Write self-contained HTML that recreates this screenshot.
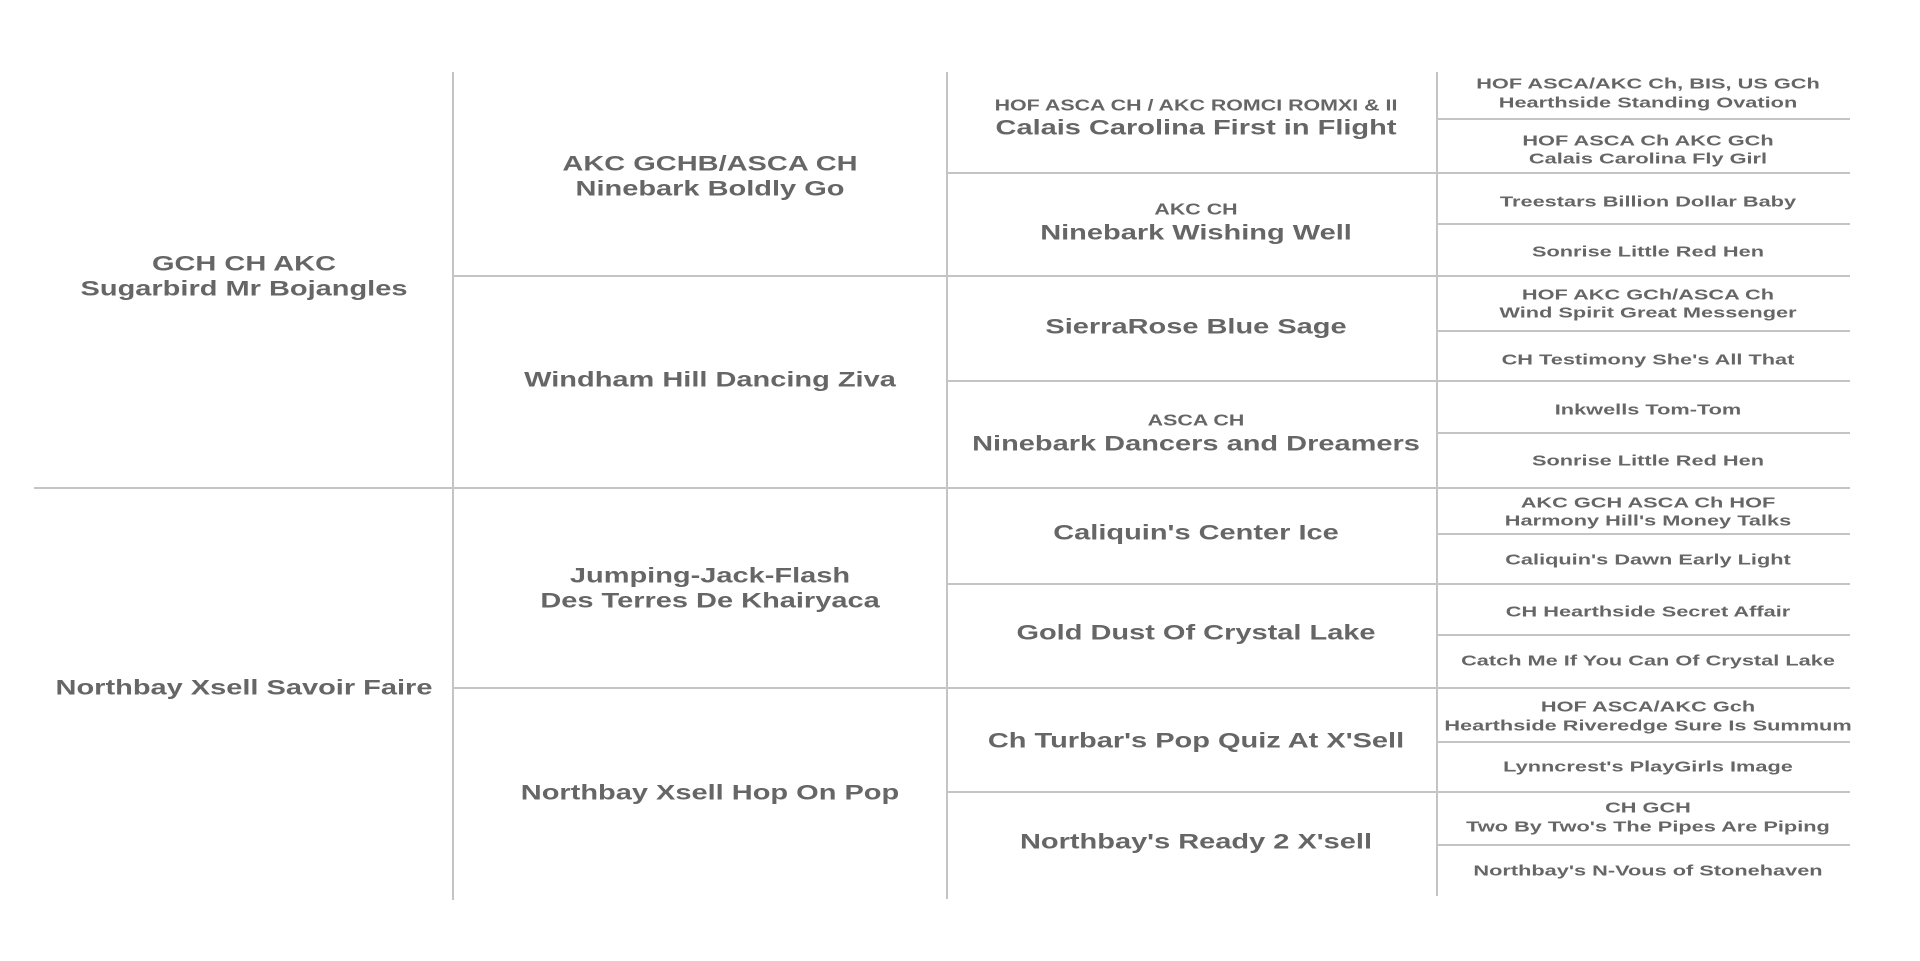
<!DOCTYPE html>
<html><head><meta charset="utf-8"><style>
body{margin:0;width:1920px;height:961px;background:#fff;position:relative;overflow:hidden;font-family:"Liberation Sans",Arial,sans-serif;font-weight:bold;color:#666}
.h{position:absolute;height:2px;background:#c4c4c4}
.v{position:absolute;width:2px;background:#c4c4c4}
.t{position:absolute;white-space:nowrap;transform:translate(-50%,-50%) scaleX(1.38);line-height:1}
.b{font-size:21px}
.s{font-size:15.5px}
.m{font-size:15px;transform:translate(-50%,-50%) scaleX(1.45)}
</style></head><body>
<div class="v" style="left:452px;top:72px;height:828px"></div>
<div class="v" style="left:946px;top:72px;height:827px"></div>
<div class="v" style="left:1436px;top:72px;height:824px"></div>
<div class="h" style="left:34px;top:487px;width:1816px"></div>
<div class="h" style="left:453px;top:275px;width:1397px"></div>
<div class="h" style="left:453px;top:687px;width:1397px"></div>
<div class="h" style="left:947px;top:172px;width:903px"></div>
<div class="h" style="left:947px;top:380px;width:903px"></div>
<div class="h" style="left:947px;top:583px;width:903px"></div>
<div class="h" style="left:947px;top:791px;width:903px"></div>
<div class="h" style="left:1437px;top:118px;width:413px"></div>
<div class="h" style="left:1437px;top:223px;width:413px"></div>
<div class="h" style="left:1437px;top:330px;width:413px"></div>
<div class="h" style="left:1437px;top:432px;width:413px"></div>
<div class="h" style="left:1437px;top:533px;width:413px"></div>
<div class="h" style="left:1437px;top:634px;width:413px"></div>
<div class="h" style="left:1437px;top:741px;width:413px"></div>
<div class="h" style="left:1437px;top:844px;width:413px"></div>

<div class="t b" style="left:244px;top:264px">GCH CH AKC</div>
<div class="t b" style="left:244px;top:289px">Sugarbird Mr Bojangles</div>
<div class="t b" style="left:244px;top:688px">Northbay Xsell Savoir Faire</div>

<div class="t b" style="left:710px;top:164px">AKC GCHB/ASCA CH</div>
<div class="t b" style="left:710px;top:189px">Ninebark Boldly Go</div>
<div class="t b" style="left:710px;top:380px">Windham Hill Dancing Ziva</div>
<div class="t b" style="left:710px;top:576px">Jumping-Jack-Flash</div>
<div class="t b" style="left:710px;top:601px">Des Terres De Khairyaca</div>
<div class="t b" style="left:710px;top:793px">Northbay Xsell Hop On Pop</div>

<div class="t s" style="left:1196px;top:106px">HOF ASCA CH / AKC ROMCI ROMXI &amp; II</div>
<div class="t b" style="left:1196px;top:128px">Calais Carolina First in Flight</div>
<div class="t s" style="left:1196px;top:210px">AKC CH</div>
<div class="t b" style="left:1196px;top:233px">Ninebark Wishing Well</div>
<div class="t b" style="left:1196px;top:327px">SierraRose Blue Sage</div>
<div class="t s" style="left:1196px;top:421px">ASCA CH</div>
<div class="t b" style="left:1196px;top:444px">Ninebark Dancers and Dreamers</div>
<div class="t b" style="left:1196px;top:533px">Caliquin's Center Ice</div>
<div class="t b" style="left:1196px;top:633px">Gold Dust Of Crystal Lake</div>
<div class="t b" style="left:1196px;top:741px">Ch Turbar's Pop Quiz At X'Sell</div>
<div class="t b" style="left:1196px;top:842px">Northbay's Ready 2 X'sell</div>

<div class="t m" style="left:1648px;top:84px">HOF ASCA/AKC Ch, BIS, US GCh</div>
<div class="t m" style="left:1648px;top:103px">Hearthside Standing Ovation</div>
<div class="t m" style="left:1648px;top:141px">HOF ASCA Ch AKC GCh</div>
<div class="t m" style="left:1648px;top:159px">Calais Carolina Fly Girl</div>
<div class="t m" style="left:1648px;top:202px">Treestars Billion Dollar Baby</div>
<div class="t m" style="left:1648px;top:252px">Sonrise Little Red Hen</div>
<div class="t m" style="left:1648px;top:295px">HOF AKC GCh/ASCA Ch</div>
<div class="t m" style="left:1648px;top:313px">Wind Spirit Great Messenger</div>
<div class="t m" style="left:1648px;top:360px">CH Testimony She's All That</div>
<div class="t m" style="left:1648px;top:410px">Inkwells Tom-Tom</div>
<div class="t m" style="left:1648px;top:461px">Sonrise Little Red Hen</div>
<div class="t m" style="left:1648px;top:503px">AKC GCH ASCA Ch HOF</div>
<div class="t m" style="left:1648px;top:521px">Harmony Hill's Money Talks</div>
<div class="t m" style="left:1648px;top:560px">Caliquin's Dawn Early Light</div>
<div class="t m" style="left:1648px;top:612px">CH Hearthside Secret Affair</div>
<div class="t m" style="left:1648px;top:661px">Catch Me If You Can Of Crystal Lake</div>
<div class="t m" style="left:1648px;top:707px">HOF ASCA/AKC Gch</div>
<div class="t m" style="left:1648px;top:726px">Hearthside Riveredge Sure Is Summum</div>
<div class="t m" style="left:1648px;top:767px">Lynncrest's PlayGirls Image</div>
<div class="t m" style="left:1648px;top:808px">CH GCH</div>
<div class="t m" style="left:1648px;top:827px">Two By Two's The Pipes Are Piping</div>
<div class="t m" style="left:1648px;top:871px">Northbay's N-Vous of Stonehaven</div>
</body></html>
